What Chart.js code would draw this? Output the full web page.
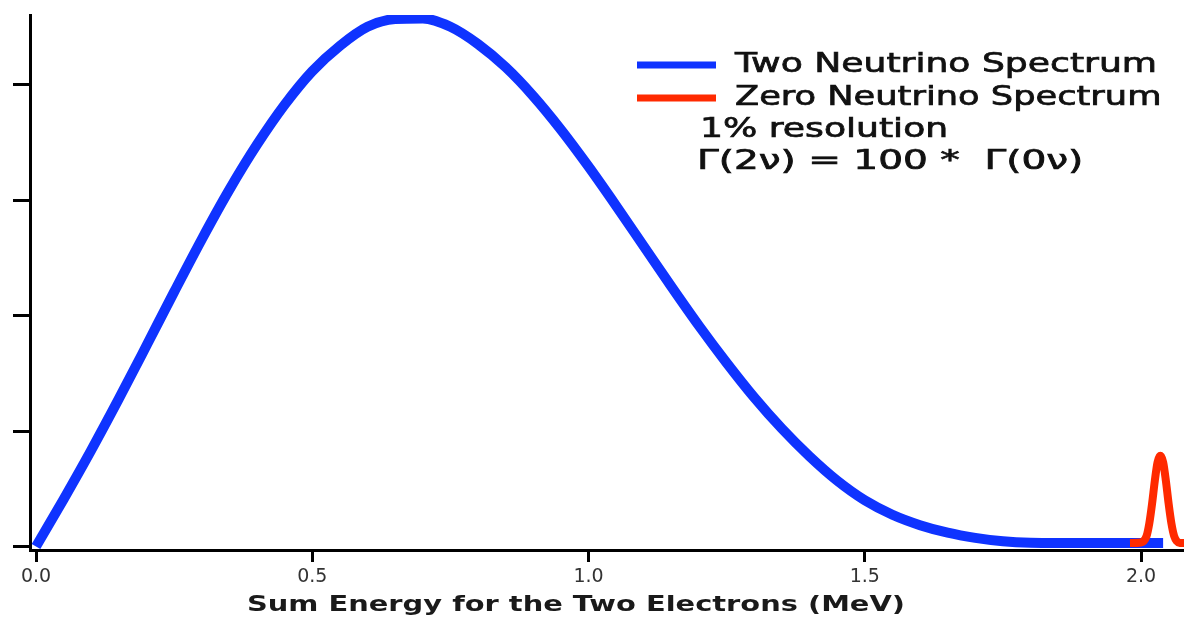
<!DOCTYPE html>
<html>
<head>
<meta charset="utf-8">
<script src="https://cdn.jsdelivr.net/npm/chart.js@4"></script>
<style>
  html, body { margin: 0; padding: 0; background: #fff; }
  #wrap { width: 1184px; height: 619px; }
</style>
</head>
<body>
<div id="wrap"><canvas id="spectrumChart"></canvas></div>
<script>
// two neutrino spectrum (MeV, arbitrary units)
const energyTwoNu = [0.00, 0.05, 0.10, 0.15, 0.20, 0.25, 0.30, 0.35, 0.40, 0.45,
  0.50, 0.55, 0.60, 0.65, 0.70, 0.75, 0.80, 0.85, 0.90, 0.95,
  1.00, 1.05, 1.10, 1.15, 1.20, 1.25, 1.30, 1.35, 1.40, 1.45,
  1.50, 1.55, 1.60, 1.65, 1.70, 1.75, 1.80, 1.85, 1.90, 1.95, 2.00, 2.04];
const countsTwoNu = [0.00, 0.41, 0.835, 1.28, 1.74, 2.205, 2.66, 3.09, 3.48, 3.825,
  4.115, 4.335, 4.50, 4.567, 4.572, 4.50, 4.35, 4.15, 3.90, 3.61,
  3.29, 2.95, 2.60, 2.25, 1.91, 1.59, 1.29, 1.02, 0.78, 0.57,
  0.40, 0.275, 0.185, 0.12, 0.075, 0.045, 0.032, 0.03, 0.03, 0.03, 0.03, 0.03];

// zero neutrino peak
const energyZeroNu = [1.98, 2.00, 2.01, 2.015, 2.02, 2.025, 2.03, 2.035, 2.04,
  2.045, 2.05, 2.055, 2.06, 2.065, 2.07, 2.08];
const countsZeroNu = [0.03, 0.035, 0.09, 0.2, 0.37, 0.57, 0.73, 0.785, 0.73,
  0.57, 0.37, 0.2, 0.09, 0.045, 0.03, 0.03];

const xTicks = [0.0, 0.5, 1.0, 1.5, 2.0];
const yTicks = [0, 1, 2, 3, 4];
const seriesLabels = ["Two Neutrino Spectrum", "Zero Neutrino Spectrum"];
const notes = ["1% resolution", "\u0393(2\u03bd) = 100 *  \u0393(0\u03bd)"];
const xTitle = "Sum Energy for the Two Electrons (MeV)";

const blue = "#0f33ff";
const red = "#ff2a00";
const FONT = "'DejaVu Sans', Verdana, sans-serif";

function toPoints(xs, ys) {
  return xs.map((x, i) => ({ x, y: ys[i] }));
}

// the original lettering is stretched sideways
function wideText(ctx, text, x, y, sx, stroke) {
  ctx.save();
  ctx.translate(x, y);
  ctx.scale(sx, 1);
  ctx.fillText(text, 0, 0);
  if (stroke) {
    ctx.lineWidth = stroke;
    ctx.strokeText(text, 0, 0);
  }
  ctx.restore();
}

const annotations = {
  id: "annotations",
  afterDraw(chart) {
    const ctx = chart.ctx;
    const sets = chart.data.datasets;
    ctx.save();
    ctx.textBaseline = "middle";
    ctx.fillStyle = "#111";
    ctx.strokeStyle = "#111";
    ctx.font = "26px " + FONT;
    const sx = 422 / ctx.measureText(seriesLabels[0]).width;
    const rows = [65, 98];
    sets.forEach((ds, i) => {
      ctx.save();
      ctx.strokeStyle = ds.borderColor;
      ctx.lineWidth = 7;
      ctx.beginPath();
      ctx.moveTo(637, rows[i]);
      ctx.lineTo(716, rows[i]);
      ctx.stroke();
      ctx.restore();
      wideText(ctx, ds.label, 735, rows[i], i ? sx * 0.975 : sx, 0.7);
    });
    wideText(ctx, notes[0], 700, 130, sx, 0.7);
    wideText(ctx, notes[1], 697, 162, sx * 1.08, 0.7);

    // axis title
    ctx.font = "bold 22px " + FONT;
    ctx.fillStyle = "#1a1a1a";
    const tw = ctx.measureText(xTitle).width;
    wideText(ctx, xTitle, 576 - 329, 605, 658 / tw, 0);
    ctx.restore();
  }
};

const ctx = document.getElementById("spectrumChart").getContext("2d");
const chart = new Chart(ctx, {
  type: "line",
  data: {
    datasets: [
      {
        label: seriesLabels[0],
        data: toPoints(energyTwoNu, countsTwoNu),
        borderColor: blue,
        borderWidth: 10,
        pointRadius: 0,
        cubicInterpolationMode: "monotone",
        order: 1
      },
      {
        label: seriesLabels[1],
        data: toPoints(energyZeroNu, countsZeroNu),
        borderColor: red,
        borderWidth: 8,
        pointRadius: 0,
        cubicInterpolationMode: "monotone",
        order: 0
      }
    ]
  },
  options: {
    responsive: true,
    maintainAspectRatio: false,
    animation: false,
    layout: { padding: { top: 15, right: 0, left: 0, bottom: 0 } },
    plugins: {
      legend: { display: false },
      tooltip: { enabled: false }
    },
    scales: {
      x: {
        type: "linear",
        min: -0.0109,
        max: 2.0778,
        afterBuildTicks: s => { s.ticks = xTicks.map(v => ({ value: v })); },
        afterFit: s => { s.height = 69; },
        ticks: {
          callback: v => v.toFixed(1),
          font: { family: FONT, size: 19 },
          color: "#333",
          padding: 4,
          maxRotation: 0
        },
        grid: { drawOnChartArea: false, drawTicks: true, tickLength: 12, lineWidth: 3, color: "#000" },
        border: { display: true, width: 3, color: "#000" }
      },
      y: {
        type: "linear",
        min: -0.0303,
        max: 4.602,
        afterBuildTicks: s => { s.ticks = yTicks.map(v => ({ value: v })); },
        afterFit: s => { s.width = 30; },
        ticks: { display: false },
        grid: { drawOnChartArea: false, drawTicks: true, tickLength: 17, lineWidth: 3, color: "#000" },
        border: { display: true, width: 3, color: "#000" }
      }
    }
  },
  plugins: [annotations]
});
</script>
</body>
</html>
